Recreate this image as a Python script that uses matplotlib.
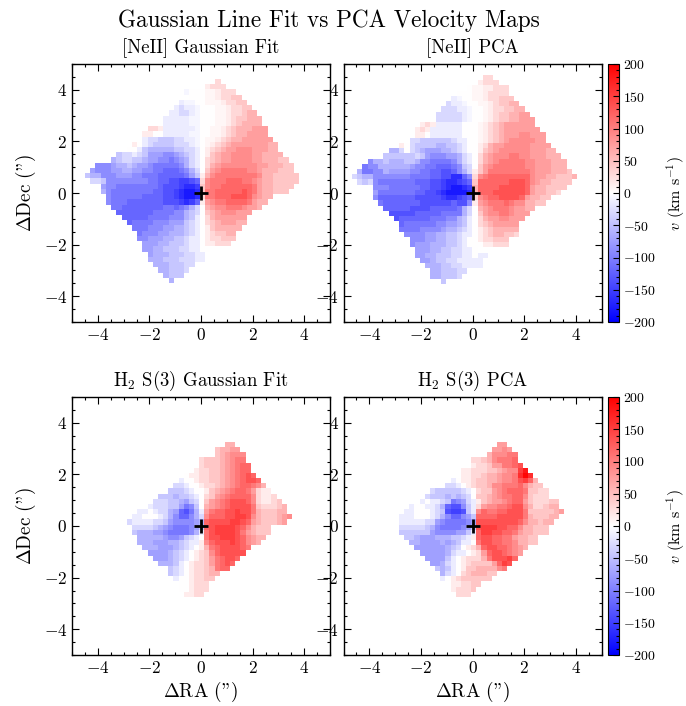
import numpy as np
import matplotlib
matplotlib.use('Agg')
import matplotlib.pyplot as plt
from matplotlib.ticker import MultipleLocator

plt.rcParams['font.family'] = ['cmr10', 'DejaVu Serif']
plt.rcParams['mathtext.fontset'] = 'cm'
plt.rcParams['axes.formatter.use_mathtext'] = True
plt.rcParams['axes.unicode_minus'] = True

# velocity maps, one entry per row from the top: (first column, cells)
# upper case = red, A=15 km/s, B=30 ... ; lower case = blue, a=-15, b=-30 ... ; 0 = zero
# + and - are the faint cells either side of zero, about 7 km/s
neii_gauss = [
    (25, "B"), (23, "ABBB"), (19, "-000++ABBB"), (20, "000++ABBCC"),
    (18, "a--00+++ABBCC"), (17, "abaa-000++ABBCC"), (16, "aabba-000++ABBCDD"),
    (15, "aaaaa--000++ABCCDDD"), (15, "aaaaa--000++ABCDDDD"),
    (12, "BBAaaaaaa-00++ABCDDDEEE"), (11, "AA00aaaaa--00++ABCDDEEEE"),
    (11, "abbcccbbaa-0++ABCDDEEEEEE"), (9, "A0abccccbbba-0+ABCDEEEEEEEDD"),
    (8, "00acdddddccbba0ABCDEEFFFEEEDD"), (6, "cbbabceeeffedcba0ACDEEFFFFEEDDDD"),
    (5, "dcbbccdeeffgfedba0BCDEEFFFFEEDDDCC"), (2, "fffeddcdeefgggggfdba0BDEFFFFFFFEEDDDCC"),
    (1, "efffeeddeeffgghhhgfdb0CEFGGGGGFFEDDDCCC"), (0, "cddfffeeeffggghhhhhgecADFGGGGGGGGFDDCCCCC"),
    (1, "bbcffffffffgghhiijjihBFGGGHHHGGFEDDCCCCC"), (3, "effgggggggghiiijkkjCFGGHHHHHHGEDDCCCC"),
    (3, "dfgggggggghhiijkllkCGGHHHHHIHGEDDCCC"), (4, "fgggggghhhhiijkllkBGGHHHIIIHFEDD"),
    (4, "fggghhhhhhhiiijkjhAEFGGHHHHGEDD"), (5, "gghhhhhhhhgghgfdb0DEFFGGGFEED"),
    (6, "hhhhhhhggggffdcb0CDEFFFEEE"), (7, "hhhhhggggfffdca0BDEEEEEE"),
    (8, "hggggfffeeecba0BCDEEEDD"), (9, "gggfffeeddcba0ACDDDDD"),
    (10, "gfffeedddcba0ABCCDD"), (10, "ffeeeddccbaa0ABBCCC"), (11, "eeeddcccbaa0AABBB"),
    (11, "eeddcccbbaa00"), (12, "edddcccbbaa"), (12, "dddcccbbbaa"),
    (13, "dddcccbb"), (14, "ddcccb"), (15, "dccc"), (16, "d"),
]
neii_pca = [
    (25, "BB"), (24, "ABBB"), (22, "0++AABBB"), (20, "000++ABBBB"),
    (19, "a-00++ABBCCC"), (18, "baa-00++ABCCDD"), (17, "bbbaa-00+ABBCCDD"),
    (16, "bbbbba-00+ABCCDDEE"), (16, "bbbbba-00+ABCCDDEEE"),
    (13, "ABAaaaaa000+ABCDEEEEEE"), (12, "ABAaaaaaa000+ABCDEEEEEEE"),
    (12, "AA0aaaaaa000+ABCDEEEFFEEE"), (11, "bbccccccbaa00+ABCDEFFFFFEE"),
    (9, "A0bccccddccba00ABDEEFFFFFEEEE"), (7, "ddb0bcdeeeddcba00ACDEFFFFFFEEEDD"),
    (6, "ccccccbcefffeedba0BDEFFFGGFFEEEDDD"), (3, "fddcdddccdffggggfdba0BDEFGGGGGFFEEEDDD"),
    (2, "gffddddddeffgghhhgfcb0CEFGGGGGGFFEEEDDD"), (1, "dggffdeeeeffgghhiihfdbACEGGGGGGGGFEEEDDDC"),
    (0, "bcddfffffffgggghhiikkhfBFGHHHHHHHHFEEDDCCCD"), (1, "bcbfggggggghhhiijkkjihCHHHHHHIIIHFEDDCCCC"),
    (4, "fffgggggghhiijkllkjDHHHHIIIIIHEDDCCCC"), (4, "eggggggghhiijkllllkDHHHIIIIIIHEDDCCB"),
    (4, "fhhhhhhhiiiiijkkjihBFGHHIIIIHEDDCC"), (5, "ghhhhhhhiiiiiihiifAEFGGGHGFFDDCC"),
    (6, "hhhhhiiiihhhhhgdb0DEFGGGFEEDD"), (7, "iiiiihhhhhggggdb0CEFFGGFEEE"),
    (8, "ihhhhhhgggffdca0BDEEFFEEE"), (9, "hggggggffeedca0BCDEEEEE"),
    (9, "ggggffffeddcba0ABCDDDDD"), (10, "ffffeeddccbaa0ABCDDCCB"),
    (11, "fffeeddccba00ABBCCC"), (11, "feeedddccba000AABBB"), (12, "eeeddccbbaa0"),
    (12, "eeddcccbbaa0aa"), (13, "eedccbbaaaaa"), (14, "dddccbbaaaa"),
    (15, "ddcccbb"), (15, "ddcccb"), (17, "c"),
]
h2_gauss = [
    (19, "DD"), (17, "CDDEE"), (17, "CDEFFF"), (14, "BCCCDEFGG"), (14, "BCCCDEFGHH"),
    (13, "ABBCCDEFGHH"), (11, "0AABBCCDEFGHIH"), (10, "a00ABBCCDEFGHIIH"),
    (9, "bba00ABBCDEFGHHGFD"), (8, "cccba00ACDEFGHHGEBAA"), (6, "cccdccba0BCEFGHHHHFBAAB"),
    (5, "bbbccdecb0CEFGHIIIHFBAABC"), (4, "abbbccegfc0DEFGHIIIIGCBBBCD"),
    (2, "aa0abbdehigdaEGHHIIJIIGDCCCDD"), (1, "aa000abdfhhfdbFHHHIIJJIFDCCCDEF"),
    (0, "baaaabbceffffedHIIIIJJIHEDCCCDE"), (1, "bbbbcdefgggfecHIJJJJIHFDCCC"),
    (1, "cdddeefggggfdaGIJJJJIGEDCCC"), (2, "dddddeffecba0GIIJJJIHFEDD"),
    (2, "dddeeeddcbaaAFHIIIJIHFED"), (3, "dddeeedcba0ADGHIIIIHG"),
    (4, "eeeedcba0ABCFHIIIII"), (5, "eeedcba0ABCEGHIIH"), (6, "dddca0ABBCEGHIH"),
    (8, "cba0ABBCDGHH"), (8, "cba0ABBCDD"), (9, "a00ABBCC"), (10, "00ABBB"),
    (10, "00ABBB"), (11, "AABB"),
]
h2_pca = [
    (19, "EE"), (18, "EEFE"), (17, "DFFFGG"), (14, "BBCDFGGGH"), (14, "ABBCEEGGHI"),
    (12, "AABBBCCDEFFJL"), (12, "AABBCDDEFFGKMK"), (10, "a0AABCCDDEFFGIJHD"),
    (9, "bba0ABCCDFFGGGHFDCC"), (6, "bcccccba0BCCEFGHHHGCCBB"), (5, "bcccdcdcb0CCDEFGGHHFCBBB"),
    (4, "a0aabcgfebaACDEEFGHHECBBBCC"), (2, "a00aabdhiifcaBEFFGGHIIFDBBCDD"),
    (1, "aa000abcijjicaFHGGHHIIIGCCCCCDE"), (0, "aaa000abdfhhfecHHHHIIIIIGDCCCDD"),
    (0, "aaaaabbefggggfeIIIIIIIIHFDDCDD"), (0, "bbbbbcdfggggfecIJJJIIHHFDDCCC"),
    (0, "cccccceffffeecaHJJIIHHGEDDCCC"), (1, "ccdeeedddccbaAHIIHHGGEDDCC"),
    (2, "ddeeeededcaa0GIIHHGGFDDCC"), (3, "eeeeeedcb0ABDHIIHHGFED"),
    (4, "eeeeedbaa0ABEHIIHGFE"), (5, "eeeeca0ABBBDGIIIJH"), (6, "eedba0ABCCCCEHJI"),
    (7, "cdca0ACCDDDDFG"), (8, "dba0BCDDDCC"), (8, "a0ABCCCCCC"), (10, "AABBCC"),
    (10, "ABBBC"), (11, "BBB"),
]

titles = ['[NeII] Gaussian Fit', '[NeII] PCA', r'H$_2$ S(3) Gaussian Fit', r'H$_2$ S(3) PCA']
maps = [neii_gauss, neii_pca, h2_gauss, h2_pca]
# top left corner of each map in arcsec, and the cell size
corners = [(-4.48, 4.38), (-4.66, 4.57), (-2.865, 3.226), (-2.865, 3.226)]
cell = [0.202, 0.202, 0.199, 0.199]
cbar_ticks = [-200, -150, -100, -50, 0, 50, 100, 150, 200]
STEP = 15


def decode(rows):
    ncol = max(s + len(r) for s, r in rows)
    grid = np.full((len(rows), ncol), np.nan)
    for i, (start, cells) in enumerate(rows):
        for j, ch in enumerate(cells):
            if ch == '0':
                v = 0
            elif ch == '+':
                v = 7
            elif ch == '-':
                v = -7
            elif ch.isupper():
                v = (ord(ch) - 64) * STEP
            else:
                v = -(ord(ch) - 96) * STEP
            grid[i, start + j] = v
    return grid


W, H = 686, 706
fig = plt.figure(figsize=(W / 100, H / 100), dpi=100)


def px_axes(left, top, right, bottom):
    return fig.add_axes([left / W, 1 - bottom / H, (right - left) / W, (bottom - top) / H])


boxes = [(72, 64, 330, 322), (343.5, 64, 601.5, 322), (72, 397, 330, 655), (343.5, 397, 601.5, 655)]
for k, box in enumerate(boxes):
    ax = px_axes(*box)
    grid = decode(maps[k])
    x0, y0 = corners[k]
    d = cell[k]
    im = ax.imshow(grid, cmap='bwr', vmin=-200, vmax=200, interpolation='nearest', aspect='auto',
                   extent=[x0, x0 + d * grid.shape[1], y0 - d * grid.shape[0], y0])
    ax.plot(0, 0, marker='+', color='k', ms=10, mew=2)
    ax.set_xlim(-5, 5)
    ax.set_ylim(-5, 5)
    ax.set_title(titles[k], fontsize=13.5, pad=8)
    ax.xaxis.set_major_locator(MultipleLocator(2))
    ax.yaxis.set_major_locator(MultipleLocator(2))
    ax.xaxis.set_minor_locator(MultipleLocator(0.5))
    ax.yaxis.set_minor_locator(MultipleLocator(0.5))
    ax.tick_params(which='both', direction='in', top=True, right=True, labelsize=12.5, width=0.8)
    ax.tick_params(which='major', length=5)
    ax.tick_params(which='minor', length=2.5)
    for sp in ax.spines.values():
        sp.set_linewidth(1.0)
    if k >= 2:
        ax.set_xlabel(r'$\Delta$RA (")', fontsize=13.8, labelpad=3)
    if k % 2 == 0:
        ax.set_ylabel(r'$\Delta$Dec (")', fontsize=13.8, labelpad=4)
    if k % 2 == 1:
        cax = px_axes(608, box[1], 618.5, box[3])
        cb = fig.colorbar(im, cax=cax)
        cb.set_ticks(cbar_ticks)
        cb.ax.yaxis.set_minor_locator(MultipleLocator(10))
        cb.ax.tick_params(which='both', direction='in', right=True, left=False, labelsize=10, width=0.8)
        cb.ax.tick_params(which='major', length=4)
        cb.ax.tick_params(which='minor', length=2)
        cb.set_label(r'$v$ (km s$^{-1}$)', fontsize=11.5, labelpad=6)

fig.text(329 / W, 1 - 21 / H, 'Gaussian Line Fit vs PCA Velocity Maps', fontsize=16.7, ha='center', va='center')
fig.savefig('out.png', dpi=100)
